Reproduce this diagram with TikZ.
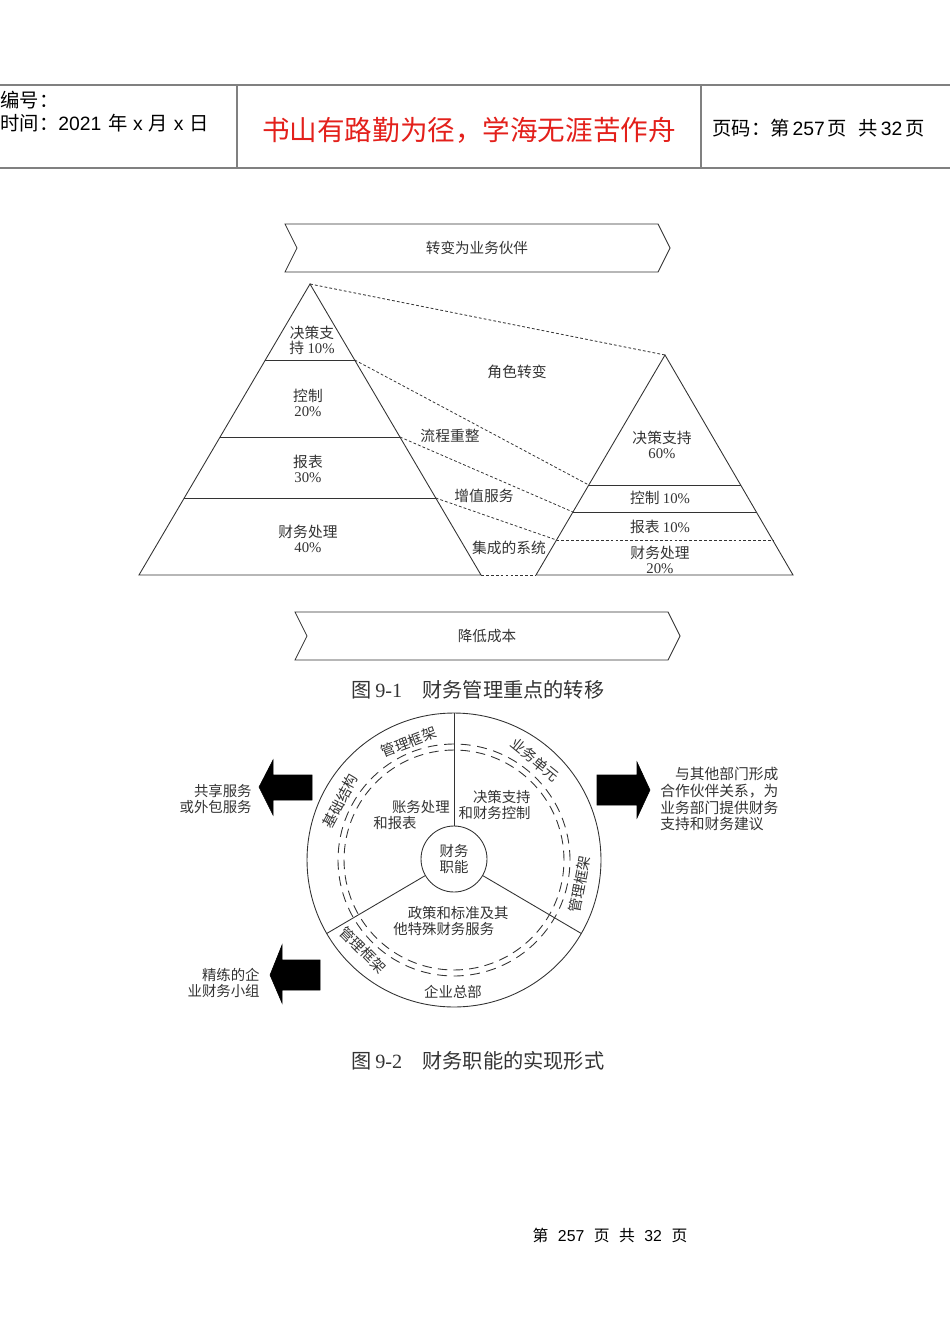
\documentclass[tikz,border=0pt]{standalone}
\usepackage{fontspec}
\setmainfont{Liberation Serif}
\newfontfamily\cjk{Noto Sans CJK SC}
\newfontfamily\arial{Liberation Sans}
\usepackage{tikz}
\usetikzlibrary{calc,positioning}
\definecolor{ink}{HTML}{333333}
\definecolor{rulegray}{HTML}{808080}
\definecolor{motto}{HTML}{E3201B}

\begin{document}
\begin{tikzpicture}[x=0.02cm,y=-0.02cm,
  outline/.style={draw=ink,line width=0.5pt},
  dots/.style={draw=ink,line width=0.45pt,dash pattern=on 1.6pt off 1.2pt},
  hdr/.style={font={\cjk\fontsize{11}{13}\selectfont},inner sep=0pt,anchor=west},
  band/.style={font={\cjk\fontsize{8.3}{10}\selectfont},text=ink,inner sep=0pt},
  pyr/.style={font={\cjk\fontsize{8.4}{8.6}\selectfont},text=ink,align=center,inner sep=0pt},
  caption/.style={font={\cjk\fontsize{11.5}{13}\selectfont},text=ink,inner sep=0pt},
  sector/.style={font={\cjk\fontsize{8.2}{9.6}\selectfont},text=ink,inner sep=0pt},
  ringtxt/.style={font={\cjk\fontsize{8.2}{9.6}\selectfont},text=ink,inner sep=0pt},
  blockarrow/.style={fill=black,draw=black,line width=0.3pt}]
  \useasboundingbox (0,0) rectangle (950,1344);

  % page header
  \draw[rulegray,line width=1.2pt] (0,85) -- (950,85);
  \draw[rulegray,line width=1.2pt] (0,168) -- (950,168);
  \draw[rulegray,line width=1pt] (237,85) -- (237,168);
  \draw[rulegray,line width=1pt] (701,85) -- (701,168);
  \node[hdr] (serial) at (0,100) {编号：};
  \node[hdr] (date) at (0,123)
    {时间：{\arial 2021}\kern.35em 年\kern.3em{\arial x}\kern.3em 月\kern.3em{\arial x}\kern.3em 日};
  \node[font={\cjk\fontsize{15.7}{18}\selectfont},text=motto,inner sep=0pt] (mottotext) at (469,130)
    {书山有路勤为径，学海无涯苦作舟};
  \node[hdr] (pageno) at (712,128)
    {页码：第\kern.15em{\arial 257}\kern.15em 页\kern.6em 共\kern.15em{\arial 32}\kern.15em 页};

  % figure 9-1
  \draw[outline] (285,224) -- (658,224) -- (670,248) -- (658,272) -- (285,272) -- (297,248) -- cycle;
  \node[band] (partner) at (477,248) {转变为业务伙伴};

  \coordinate (Ltop) at (310,284);
  \coordinate (Lleft) at (139,575);
  \coordinate (Lright) at (481,575);
  \coordinate (L1a) at (265.3,360);
  \coordinate (L1b) at (354.7,360);
  \coordinate (L2a) at (220.1,437);
  \coordinate (L2b) at (399.9,437);
  \coordinate (L3a) at (184.3,498);
  \coordinate (L3b) at (435.7,498);
  \draw[outline] (Ltop) -- (Lleft) -- (Lright) -- cycle;
  \draw[outline] (L1a) -- (L1b);
  \draw[outline] (L2a) -- (L2b);
  \draw[outline] (L3a) -- (L3b);

  \coordinate (Rtop) at (665,355);
  \coordinate (Rleft) at (536,575);
  \coordinate (Rright) at (793,575);
  \coordinate (R1a) at (588.8,485);
  \coordinate (R1b) at (741.2,485);
  \coordinate (R2a) at (572.9,512);
  \coordinate (R2b) at (757.1,512);
  \coordinate (R3a) at (556.5,540);
  \coordinate (R3b) at (773.5,540);
  \draw[outline] (Rtop) -- (Rleft) -- (Rright) -- cycle;
  \draw[outline] (R1a) -- (R1b);
  \draw[outline] (R2a) -- (R2b);
  \draw[dots] (R3a) -- (R3b);

  \draw[dots] (Ltop) -- (Rtop);
  \draw[dots] (L1b) -- (R1a);
  \draw[dots] (L2b) -- (R2a);
  \draw[dots] (L3b) -- (R3a);
  \draw[dots] (Lright) -- (Rleft);

  \node[pyr] (decideL) at (312,340) {决策支\\持 {\rmfamily 10\%}};
  \node[pyr] (controlL) at (308,403) {控制\\{\rmfamily 20\%}};
  \node[pyr] (reportL) at (308,469) {报表\\{\rmfamily 30\%}};
  \node[pyr] (processL) at (308,539) {财务处理\\{\rmfamily 40\%}};
  \node[pyr] (decideR) at (662,445) {决策支持\\{\rmfamily 60\%}};
  \node[pyr] (controlR) at (660,498) {控制 {\rmfamily 10\%}};
  \node[pyr] (reportR) at (660,527) {报表 {\rmfamily 10\%}};
  \node[pyr] (processR) at (660,560) {财务处理\\{\rmfamily 20\%}};
  \node[pyr] (roleshift) at (517,372) {角色转变};
  \node[pyr] (redesign) at (450,436) {流程重整};
  \node[pyr] (addvalue) at (484,496) {增值服务};
  \node[pyr] (integrate) at (509,548) {集成的系统};

  \draw[outline] (295,612) -- (668,612) -- (680,636) -- (668,660) -- (295,660) -- (307,636) -- cycle;
  \node[band] (cost) at (487,636) {降低成本};
  \node[caption] (capA) at (478,690) {图\,{\rmfamily 9-1}\quad 财务管理重点的转移};

  % figure 9-2
  \coordinate (hub) at (454,860);
  \draw[outline] (hub) circle[radius=2.94cm];
  \node[circle,outline,minimum size=1.32cm,inner sep=0pt,sector,align=center] (core) at (454,859)
    {财务\\职能};
  \draw[outline] (core.90) -- ($(hub)+(90:2.94cm)$);
  \draw[outline] (core.210) -- ($(hub)+(210:2.94cm)$);
  \draw[outline] (core.330) -- ($(hub)+(330:2.94cm)$);
  \draw[ink,line width=0.5pt,dash pattern=on 5.4pt off 3.53pt] (hub) circle[radius=2.2cm];
  \draw[ink,line width=0.5pt,dash pattern=on 5.69pt off 3.73pt] (hub) circle[radius=2.32cm];

  \node[ringtxt,rotate=21] (frameA) at ($(hub)+(111:2.53cm)$) {管理框架};
  \node[ringtxt,rotate=62] (infra) at ($(hub)+(152.6:2.56cm)$) {基础结构};
  \node[ringtxt,rotate=-39] (bizunit) at ($(hub)+(51:2.58cm)$) {业务单元};
  \node[ringtxt,rotate=79] (frameB) at ($(hub)+(-11:2.56cm)$) {管理框架};
  \node[ringtxt,rotate=-45] (frameC) at ($(hub)+(224.7:2.56cm)$) {管理框架};
  \node[ringtxt] (hq) at (453,992) {企业总部};

  \node[sector,align=left,anchor=west] (bookkeep) at (373,815) {\hspace{1.3em}账务处理\\和报表};
  \node[sector,align=right,anchor=east] (support) at (531,805) {决策支持\\和财务控制};
  \node[sector,align=left,anchor=west] (policy) at (393,921) {\hspace{1em}政策和标准及其\\他特殊财务服务};

  \draw[blockarrow] (312,775) -- (273,775) -- (273,760) -- (259,787) -- (273,815) -- (273,800) -- (312,800) -- cycle;
  \draw[blockarrow] (320,960) -- (282,960) -- (282,945) -- (270,975) -- (282,1003) -- (282,990) -- (320,990) -- cycle;
  \draw[blockarrow] (597,775) -- (637,775) -- (637,762) -- (650,790) -- (637,818) -- (637,805) -- (597,805) -- cycle;

  \node[sector,align=right,anchor=east] (shared) at (252,799) {共享服务\\或外包服务};
  \node[sector,align=right,anchor=east] (lean) at (260,983) {精练的企\\业财务小组};
  \node[sector,align=left,anchor=north west,font={\cjk\fontsize{8.4}{9.5}\selectfont}] (partnering) at (660,767)
    {\hspace{1em}与其他部门形成\\合作伙伴关系，为\\业务部门提供财务\\支持和财务建议};

  \node[caption] (capB) at (478,1061) {图\,{\rmfamily 9-2}\quad 财务职能的实现形式};

  % page footer
  \node[font={\cjk\fontsize{9}{11}\selectfont},inner sep=0pt] (footer) at (610,1235)
    {第\kern.6em{\arial 257}\kern.6em 页\kern.6em 共\kern.6em{\arial 32}\kern.6em 页};
\end{tikzpicture}
\end{document}
